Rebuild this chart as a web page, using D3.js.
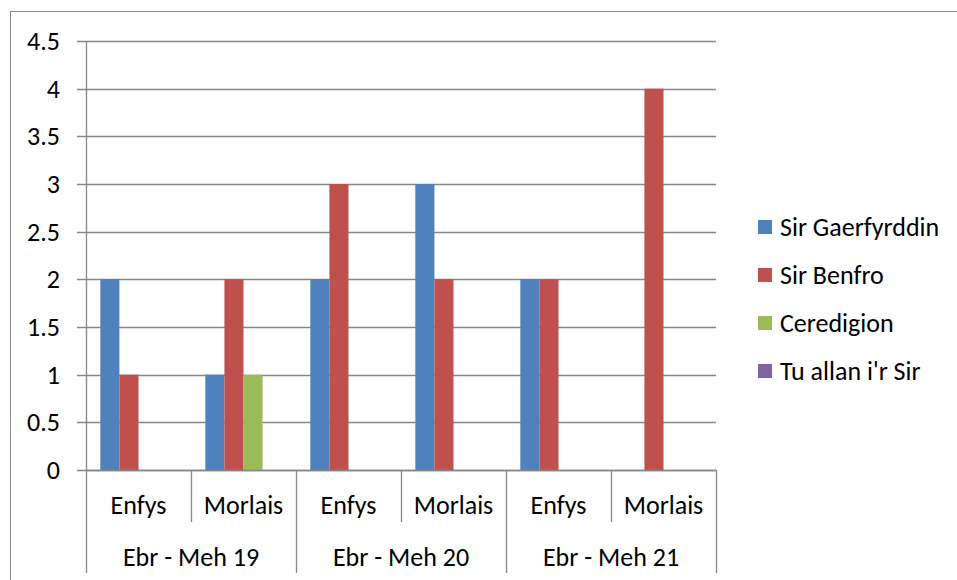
<!DOCTYPE html>
<html><head><meta charset="utf-8">
<script src="https://cdn.jsdelivr.net/npm/d3@7"></script>
<style>body{margin:0;background:#fff}svg{display:block}text{font-family:Carlito,Calibri,Lato,sans-serif;fill:#000}</style>
</head><body><svg id="c" width="957" height="580"></svg>
<script>
const periods = ["Ebr - Meh 19", "Ebr - Meh 20", "Ebr - Meh 21"];
const schemes = ["Enfys", "Morlais"];
const seriesNames = ["Sir Gaerfyrddin", "Sir Benfro", "Ceredigion", "Tu allan i'r Sir"];
const sirGaerfyrddin = [2, 1, 2, 3, 2, 0];
const sirBenfro = [1, 2, 3, 2, 2, 4];
const ceredigion = [0, 1, 0, 0, 0, 0];
const tuAllan = [0, 0, 0, 0, 0, 0];
const yTicks = [0, 0.5, 1, 1.5, 2, 2.5, 3, 3.5, 4, 4.5];
const colors = ["#4F81BD", "#C0504D", "#9BBB59", "#8064A2"];

(function () {
const values = [sirGaerfyrddin, sirBenfro, ceredigion, tuAllan];
const cats = [];
periods.forEach(p => schemes.forEach(s => cats.push({period: p, scheme: s, key: p + "|" + s})));

const svg = d3.select("#c");
const fs = 26;
const pl = 86, pr = 716, pt = 41, pb = 470;
const grid = "#868686";

svg.append("rect").attr("x", 10.5).attr("y", 11.5).attr("width", 960).attr("height", 600)
  .attr("fill", "none").attr("stroke", "#868686").attr("stroke-width", 1);

const x = d3.scaleBand().domain(cats.map(c => c.key)).range([pl, pr]).paddingInner(0).paddingOuter(0);
const y = d3.scaleLinear().domain([0, 4.5]).range([pb, pt]);
const bw = x.bandwidth() / 5.5;

yTicks.forEach(t => {
  svg.append("line").attr("x1", 77).attr("x2", pr).attr("y1", Math.round(y(t)) + 0.5).attr("y2", Math.round(y(t)) + 0.5)
    .attr("stroke", grid).attr("stroke-width", 1.3);
  svg.append("text").attr("x", 60).attr("y", y(t)).attr("dy", "0.35em").attr("text-anchor", "end")
    .attr("font-size", fs).text(t);
});

cats.forEach((c, i) => {
  values.forEach((arr, s) => {
    const v = arr[i];
    if (!v) return;
    svg.append("rect").attr("x", x(c.key) + bw * 0.75 + s * bw).attr("width", bw)
      .attr("y", y(v)).attr("height", y(0) - y(v)).attr("fill", colors[s]);
  });
});

svg.append("line").attr("x1", pl + 0.5).attr("x2", pl + 0.5).attr("y1", pt).attr("y2", 573).attr("stroke", grid).attr("stroke-width", 1.3);
svg.append("line").attr("x1", pl).attr("x2", pr).attr("y1", pb + 0.5).attr("y2", pb + 0.5).attr("stroke", grid).attr("stroke-width", 1.3);

cats.forEach((c, i) => {
  const xe = x(c.key) + x.bandwidth();
  const isGroupEnd = (i % schemes.length) === schemes.length - 1;
  svg.append("line").attr("x1", Math.round(xe) + 0.5).attr("x2", Math.round(xe) + 0.5).attr("y1", pb).attr("y2", isGroupEnd ? 573 : 522)
    .attr("stroke", grid).attr("stroke-width", 1.3);
  svg.append("text").attr("x", x(c.key) + x.bandwidth() / 2).attr("y", 505).attr("dy", "0.35em")
    .attr("text-anchor", "middle").attr("font-size", fs).text(c.scheme);
});
periods.forEach(p => {
  const x0 = x(p + "|" + schemes[0]);
  const xe = x(p + "|" + schemes[schemes.length - 1]) + x.bandwidth();
  svg.append("text").attr("x", (x0 + xe) / 2).attr("y", 557).attr("dy", "0.35em")
    .attr("text-anchor", "middle").attr("font-size", fs).text(p);
});

const lg = svg.append("g");
seriesNames.forEach((n, i) => {
  const cy = 227 + i * 48;
  lg.append("rect").attr("x", 758).attr("y", cy - 7).attr("width", 14).attr("height", 14).attr("fill", colors[i]);
  lg.append("text").attr("x", 780).attr("y", cy).attr("dy", "0.35em").attr("font-size", fs).text(n);
});
})();
</script></body></html>
